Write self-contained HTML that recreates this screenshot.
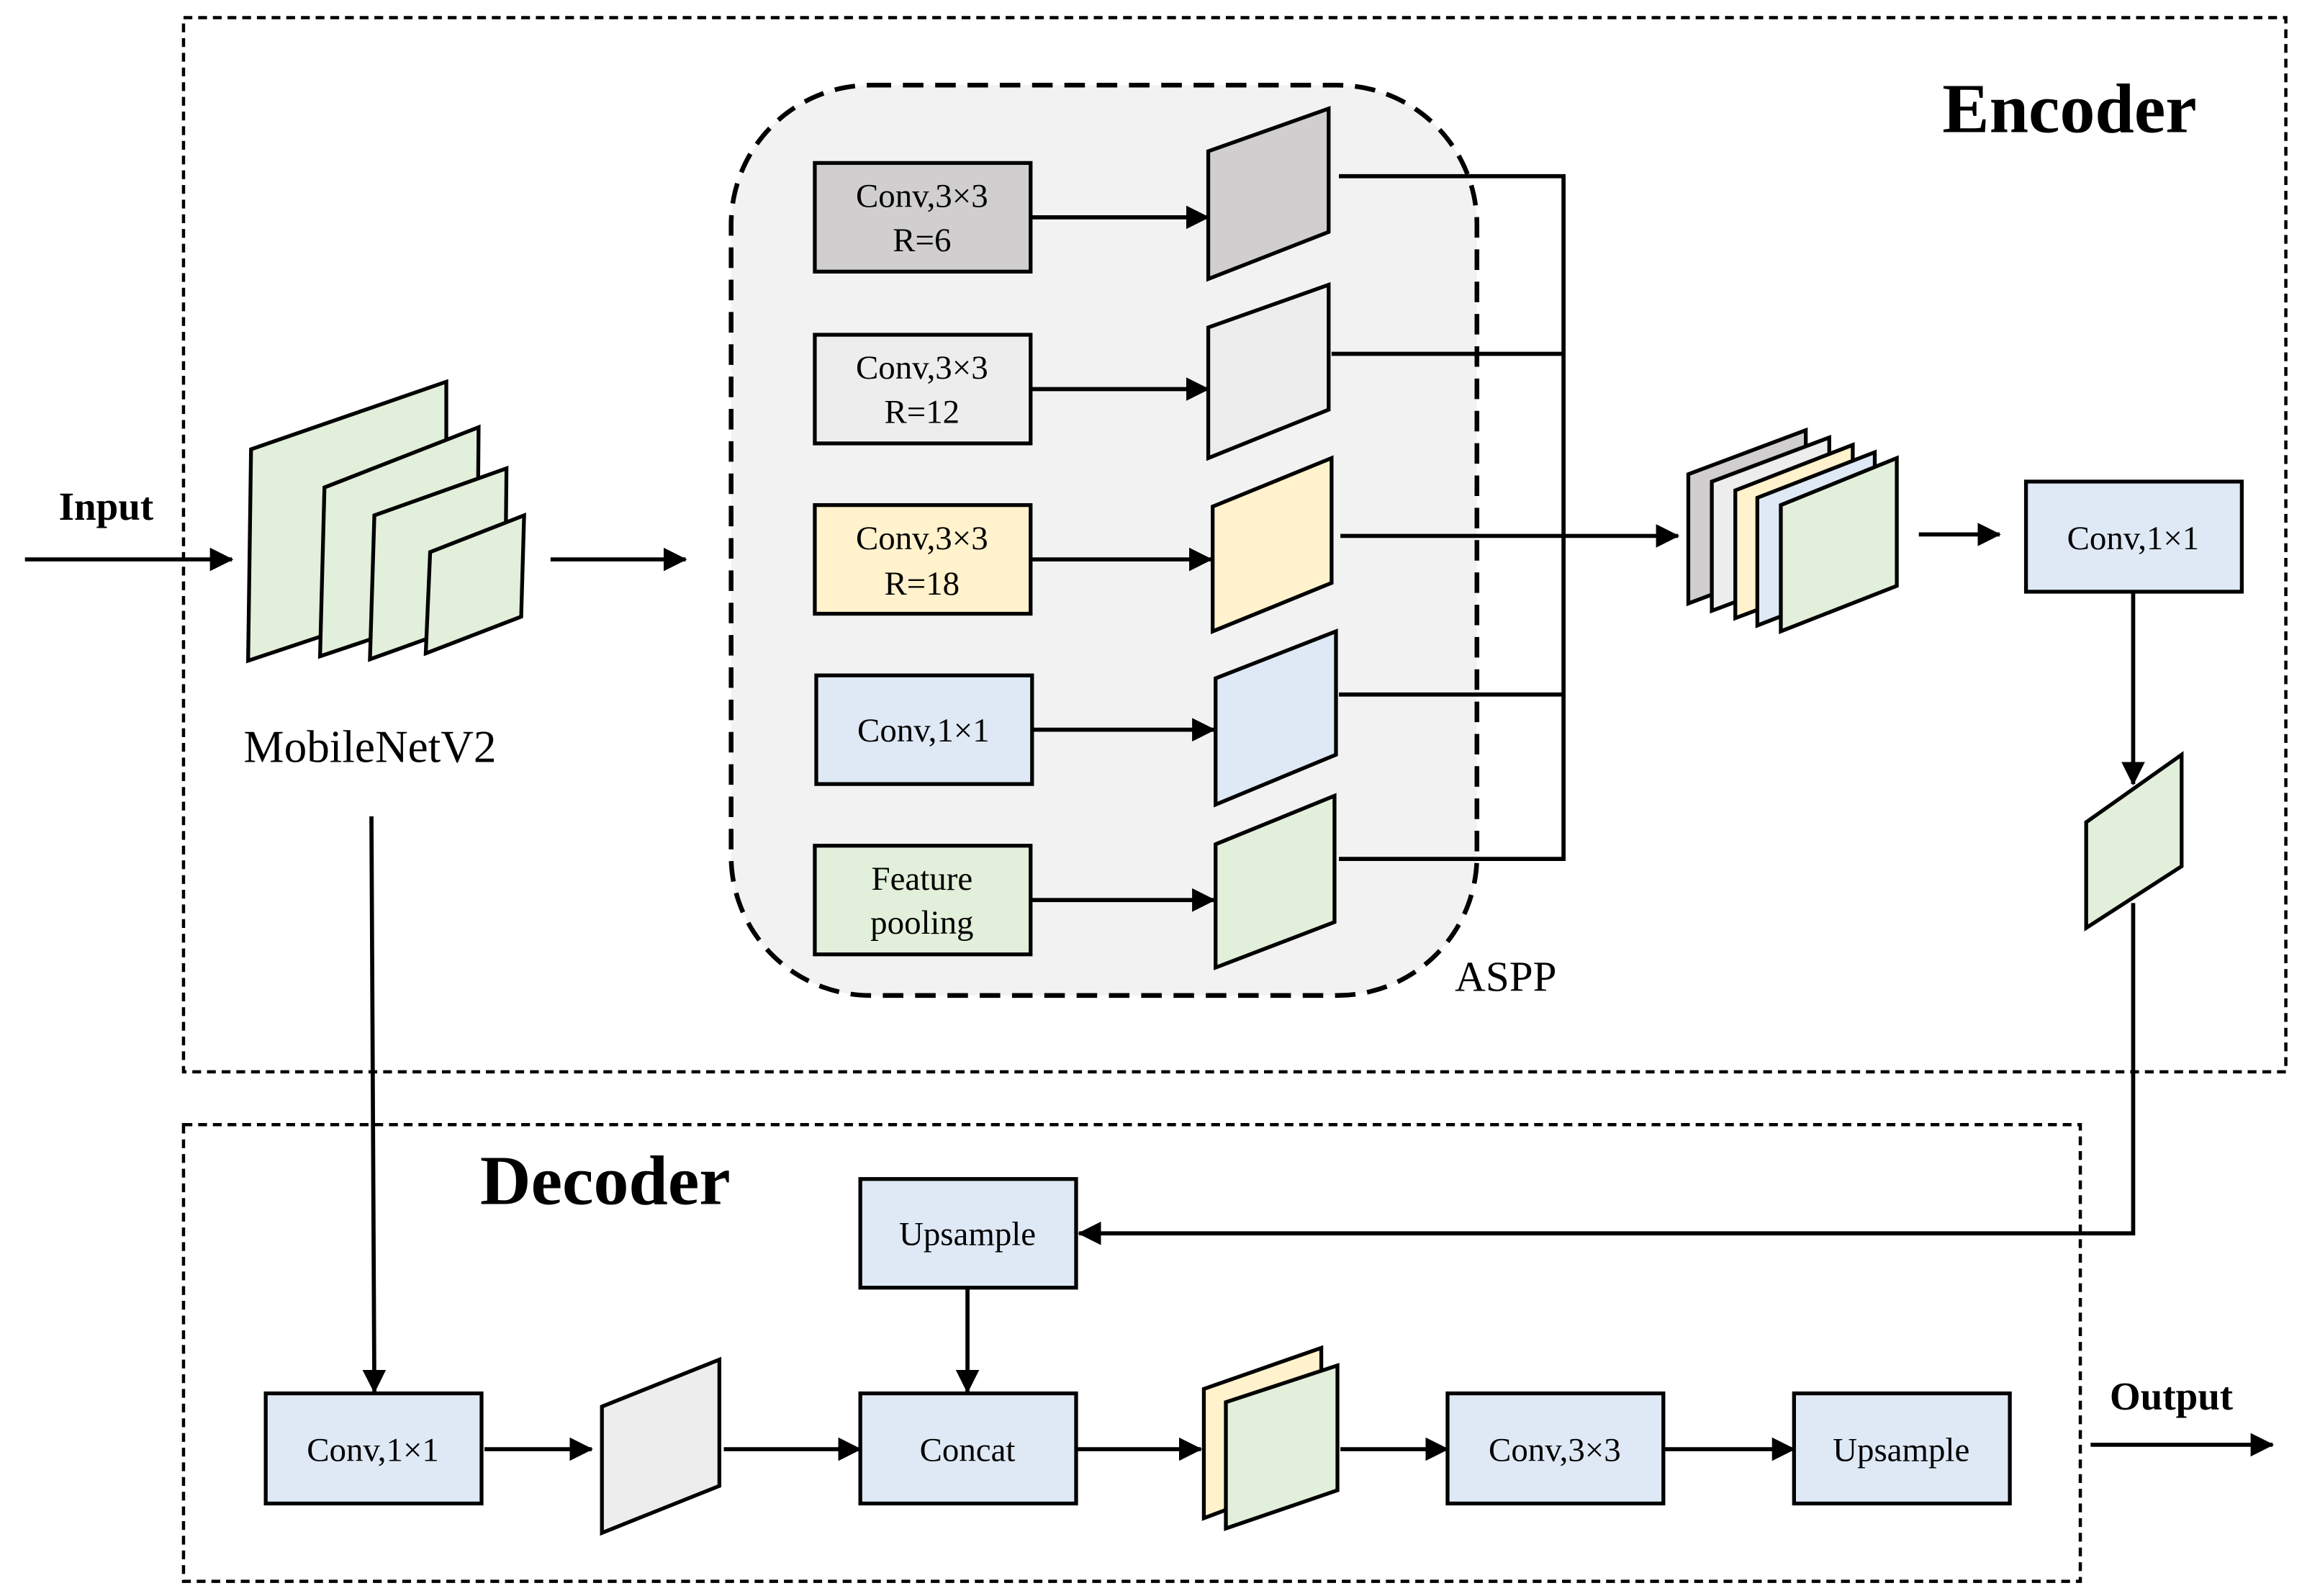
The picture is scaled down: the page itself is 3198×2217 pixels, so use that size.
<!DOCTYPE html>
<html><head><meta charset="utf-8"><style>
html,body{margin:0;padding:0;background:#fff;}
svg{display:block;}
text{font-family:"Liberation Serif",serif;fill:#000;}
</style></head><body>
<svg width="3198" height="2217" viewBox="0 0 1568 1087" preserveAspectRatio="none" xmlns="http://www.w3.org/2000/svg">
<defs>
<marker id="b" markerWidth="16" markerHeight="18" refX="15" refY="9" orient="auto" markerUnits="userSpaceOnUse" viewBox="0 0 16 18">
<path d="M0,1 L16,9 L0,17 z" fill="#000"/></marker>
</defs>
<rect x="125" y="12" width="1432" height="718" fill="none" stroke="#000" stroke-width="2.2" stroke-dasharray="6,4"/>
<rect x="125" y="766" width="1292" height="311" fill="none" stroke="#000" stroke-width="2.2" stroke-dasharray="6,4"/>
<rect x="498" y="58" width="508" height="620" rx="95" ry="95" fill="#f2f2f2" stroke="#000" stroke-width="3.2" stroke-dasharray="14,8"/>
<text x="1323" y="90" font-size="48" font-weight="bold">Encoder</text>
<text x="327" y="820" font-size="48" font-weight="bold">Decoder</text>
<text x="991" y="675" font-size="29">ASPP</text>
<text x="40" y="354" font-size="27" font-weight="bold">Input</text>
<text x="1437" y="960" font-size="27" font-weight="bold">Output</text>
<text x="252" y="519" font-size="31" text-anchor="middle">MobileNetV2</text>

<g stroke="#000" stroke-width="2.8" fill="none">
<line x1="17" y1="381" x2="158" y2="381" marker-end="url(#b)"/>
<line x1="375" y1="381" x2="467" y2="381" marker-end="url(#b)"/>
<line x1="702" y1="148" x2="823" y2="148" marker-end="url(#b)"/>
<line x1="702" y1="265" x2="823" y2="265" marker-end="url(#b)"/>
<line x1="702" y1="381" x2="825" y2="381" marker-end="url(#b)"/>
<line x1="702" y1="497" x2="827" y2="497" marker-end="url(#b)"/>
<line x1="702" y1="613" x2="827" y2="613" marker-end="url(#b)"/>
<polyline points="912,120 1065,120 1065,585 912,585"/>
<line x1="907" y1="241" x2="1065" y2="241"/>
<line x1="912" y1="473" x2="1065" y2="473"/>
<line x1="913" y1="365" x2="1143" y2="365" marker-end="url(#b)"/>
<line x1="1307" y1="364" x2="1362" y2="364" marker-end="url(#b)"/>
<line x1="1453" y1="403" x2="1453" y2="534" marker-end="url(#b)"/>
<polyline points="1453,615 1453,840 735,840" marker-end="url(#b)"/>
<line x1="659" y1="877" x2="659" y2="948" marker-end="url(#b)"/>
<line x1="253" y1="556" x2="255" y2="948" marker-end="url(#b)"/>
<line x1="330" y1="987" x2="403" y2="987" marker-end="url(#b)"/>
<line x1="493" y1="987" x2="586" y2="987" marker-end="url(#b)"/>
<line x1="733" y1="987" x2="818" y2="987" marker-end="url(#b)"/>
<line x1="913" y1="987" x2="986" y2="987" marker-end="url(#b)"/>
<line x1="1133" y1="987" x2="1222" y2="987" marker-end="url(#b)"/>
<line x1="1424" y1="984" x2="1548" y2="984" marker-end="url(#b)"/>
</g>

<g stroke="#000" stroke-width="2.6" stroke-linejoin="miter">
<polygon points="171,306 304,260 304,405 169,450" fill="#e2efda"/>
<polygon points="221,332 326,291 325,411 218,447" fill="#e2efda"/>
<polygon points="255,351 345,319 344,416 252,449" fill="#e2efda"/>
<polygon points="293,376 357,351 355,420 290,445" fill="#e2efda"/>
<polygon points="823,103 905,74 905,158 823,190" fill="#d0cece"/>
<polygon points="823,223 905,194 905,279 823,312" fill="#ededed"/>
<polygon points="826,345 907,312 907,397 826,430" fill="#fff2cc"/>
<polygon points="828,462 910,430 910,514 828,548" fill="#dee9f5"/>
<polygon points="828,575 909,542 909,628 828,659" fill="#e2efda"/>
<polygon points="1150,323 1230,293 1230,381 1150,411" fill="#d0cece"/>
<polygon points="1166,328 1246,298 1246,386 1166,416" fill="#ededed"/>
<polygon points="1182,334 1262,303 1262,391 1182,421" fill="#fff2cc"/>
<polygon points="1197,339 1277,308 1277,395 1197,426" fill="#dee9f5"/>
<polygon points="1213,344 1292,312 1292,399 1213,430" fill="#e2efda"/>
<polygon points="1421,560 1486,514 1486,590 1421,632" fill="#e2efda"/>
<polygon points="410,958 490,926 490,1012 410,1044" fill="#ededed"/>
<polygon points="820,946 900,918 900,1004 820,1034" fill="#fff2cc"/>
<polygon points="835,955 911,930 911,1015 835,1041" fill="#e2efda"/>
<rect x="555" y="111" width="147" height="74" fill="#d0cece"/>
<rect x="555" y="228" width="147" height="74" fill="#ededed"/>
<rect x="555" y="344" width="147" height="74" fill="#fff2cc"/>
<rect x="556" y="460" width="147" height="74" fill="#dee9f5"/>
<rect x="555" y="576" width="147" height="74" fill="#e2efda"/>
<rect x="1380" y="328" width="147" height="75" fill="#dee9f5"/>
<rect x="586" y="803" width="147" height="74" fill="#dee9f5"/>
<rect x="586" y="949" width="147" height="75" fill="#dee9f5"/>
<rect x="181" y="949" width="147" height="75" fill="#dee9f5"/>
<rect x="986" y="949" width="147" height="75" fill="#dee9f5"/>
<rect x="1222" y="949" width="147" height="75" fill="#dee9f5"/>
</g>

<g font-size="23" text-anchor="middle">
<text x="628" y="141">Conv,3×3</text><text x="628" y="171">R=6</text>
<text x="628" y="258">Conv,3×3</text><text x="628" y="288">R=12</text>
<text x="628" y="374">Conv,3×3</text><text x="628" y="405">R=18</text>
<text x="629" y="505">Conv,1×1</text>
<text x="628" y="606">Feature</text><text x="628" y="636">pooling</text>
<text x="1453" y="374">Conv,1×1</text>
<text x="659" y="848">Upsample</text>
<text x="659" y="995">Concat</text>
<text x="254" y="995">Conv,1×1</text>
<text x="1059" y="995">Conv,3×3</text>
<text x="1295" y="995">Upsample</text>
</g>
</svg>
</body></html>
